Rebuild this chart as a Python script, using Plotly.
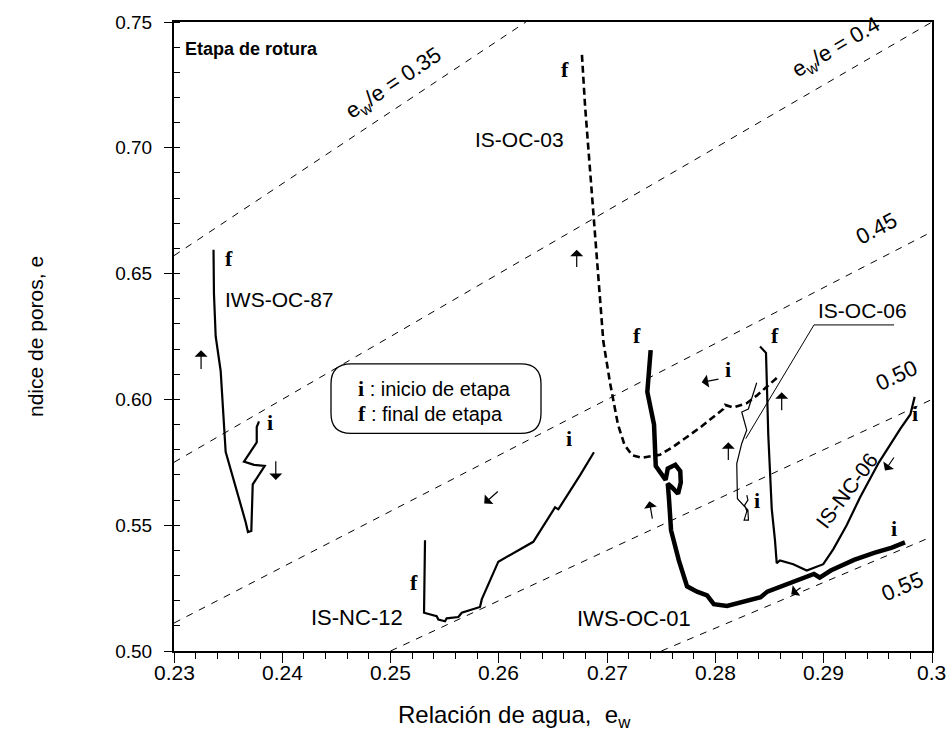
import plotly.graph_objects as go

# ---------------- data ----------------
ratio_values = [0.35, 0.40, 0.45, 0.50, 0.55]
ratio_ew_start = [0.23, 0.23, 0.23, 0.25, 0.275]
ratio_ew_end = [0.2625, 0.30, 0.30, 0.30, 0.30]

iws_oc_87_ew = [0.23785, 0.23764, 0.23764, 0.23646, 0.23739, 0.23838, 0.23727, 0.23714,
                0.23683, 0.23662, 0.23477, 0.23431, 0.23385, 0.23369, 0.23365]
iws_oc_87_e = [0.5913, 0.5890, 0.5829, 0.5753, 0.5740, 0.5736, 0.5662, 0.5477,
               0.5473, 0.5512, 0.5792, 0.6113, 0.6250, 0.6420, 0.6595]

is_nc_12_ew = [0.26878, 0.26749, 0.26549, 0.26519, 0.26318, 0.25995, 0.25842, 0.25826,
               0.25657, 0.25626, 0.25518, 0.25503, 0.25441, 0.25426, 0.25309, 0.25318]
is_nc_12_e = [0.5790, 0.5698, 0.5563, 0.5571, 0.5434, 0.5355, 0.5205, 0.5175,
              0.5152, 0.5135, 0.5130, 0.5118, 0.5125, 0.5138, 0.5152, 0.5440]

is_oc_03_ew = [0.28566, 0.28381, 0.28289, 0.28166, 0.28089, 0.28073, 0.27858, 0.27734,
               0.27611, 0.27488, 0.27320, 0.27230, 0.27160, 0.27100, 0.27057, 0.27027,
               0.26965, 0.26919, 0.26888, 0.26842, 0.26796, 0.26765]
is_oc_03_e = [0.6085, 0.6015, 0.5985, 0.5968, 0.5978, 0.5962, 0.5888, 0.5850,
              0.5812, 0.5780, 0.5768, 0.5778, 0.5820, 0.5900, 0.5996, 0.6065,
              0.6230, 0.6478, 0.6671, 0.6919, 0.7167, 0.7385]

iws_oc_01_ew = [0.29750, 0.29630, 0.29465, 0.29280, 0.29065, 0.28963, 0.28910, 0.28664,
                0.28479, 0.28418, 0.28231, 0.28107, 0.27985, 0.27923, 0.27830, 0.27738,
                0.27662, 0.27590, 0.27572, 0.27560, 0.27600, 0.27655, 0.27680, 0.27675,
                0.27630, 0.27560, 0.27540, 0.27449, 0.27433, 0.27371, 0.27402]
iws_oc_01_e = [0.5432, 0.5411, 0.5390, 0.5362, 0.5320, 0.5292, 0.5306, 0.5264,
               0.5236, 0.5214, 0.5193, 0.5179, 0.5186, 0.5221, 0.5236, 0.5257,
               0.5360, 0.5480, 0.5600, 0.5665, 0.5650, 0.5625, 0.5670, 0.5715,
               0.5740, 0.5725, 0.5680, 0.5735, 0.5900, 0.6030, 0.6196]

is_oc_06_ew = [0.28290, 0.28300, 0.28270, 0.28290, 0.28265, 0.28305, 0.28300, 0.28243,
               0.28203, 0.28197, 0.28243, 0.28289, 0.28243, 0.28304, 0.28350, 0.28381]
is_oc_06_e = [0.5620, 0.5600, 0.5580, 0.5555, 0.5520, 0.5520, 0.5560, 0.5585,
              0.5605, 0.5745, 0.5825, 0.5878, 0.5950, 0.5962, 0.6030, 0.6066]

is_nc_06_ew = [0.29840, 0.29800, 0.29710, 0.29580, 0.29510, 0.29335, 0.29212, 0.29089,
               0.28996, 0.28843, 0.28719, 0.28596, 0.28566, 0.28550, 0.28520, 0.28488,
               0.28467, 0.28412]
is_nc_06_e = [0.6010, 0.5940, 0.5885, 0.5795, 0.5750, 0.5610, 0.5500, 0.5405,
              0.5345, 0.5320, 0.5345, 0.5360, 0.5349, 0.5440, 0.5565, 0.5860,
              0.6185, 0.6210]

x_tick_vals = [0.23, 0.24, 0.25, 0.26, 0.27, 0.28, 0.29, 0.30]
x_tick_text = ["0.23", "0.24", "0.25", "0.26", "0.27", "0.28", "0.29", "0.3"]
y_tick_vals = [0.50, 0.55, 0.60, 0.65, 0.70, 0.75]
y_tick_text = ["0.50", "0.55", "0.60", "0.65", "0.70", "0.75"]

# direction arrows: head (ew, e), tail (ew, e)
arrow_heads = [(0.2325, 0.6195), (0.2394, 0.5680), (0.25865, 0.5586), (0.26719, 0.6595),
               (0.27873, 0.6068), (0.2739, 0.5595), (0.28700, 0.5225), (0.28119, 0.5830),
               (0.28612, 0.6028), (0.29566, 0.5717)]
arrow_tails = [(0.2325, 0.6115), (0.2394, 0.5760), (0.26004, 0.5639), (0.26719, 0.6520),
               (0.28042, 0.6082), (0.2742, 0.5520), (0.28800, 0.5256), (0.28119, 0.5753),
               (0.28612, 0.5951), (0.29658, 0.5775)]

# ---------------- figure ----------------
W, H = 952, 746
L, R, T, B = 174, 20, 18, 95
PW, PH = W - L - R, H - T - B

SANS = "Arial, Liberation Sans, sans-serif"
NARROW = "Liberation Sans Narrow, Arial Narrow, Arial, Liberation Sans, sans-serif"
SERIF = "Times New Roman, Liberation Serif, serif"

fig = go.Figure()

for k, a, b in zip(ratio_values, ratio_ew_start, ratio_ew_end):
    fig.add_trace(go.Scatter(x=[a, b], y=[a / k, b / k], mode="lines",
                             line=dict(color="black", width=1, dash="7px,7px"),
                             hoverinfo="skip", showlegend=False))

def curve(xs, ys, width, dash="solid"):
    fig.add_trace(go.Scatter(x=xs, y=ys, mode="lines",
                             line=dict(color="black", width=width, dash=dash),
                             showlegend=False))

curve(iws_oc_87_ew, iws_oc_87_e, 2.2)
curve(is_nc_12_ew, is_nc_12_e, 2.2)
curve(is_oc_03_ew, is_oc_03_e, 2.6, "7px,4px")
curve(iws_oc_01_ew, iws_oc_01_e, 4.5)
curve(is_oc_06_ew, is_oc_06_e, 1.2)
curve(is_nc_06_ew, is_nc_06_e, 2.2)

ann = []
for (hx, hy), (tx, ty) in zip(arrow_heads, arrow_tails):
    ann.append(dict(x=hx, y=hy, ax=tx, ay=ty, xref="x", yref="y", axref="x", ayref="y",
                    text="", showarrow=True, arrowhead=1, arrowsize=1.8, arrowwidth=1.2,
                    arrowcolor="black", standoff=0, startstandoff=0))

def txt(x, y, s, size=18, family=SANS, angle=0, xanchor="center", bold=False,
        xref="x", yref="y", yanchor="middle"):
    ann.append(dict(x=x, y=y, xref=xref, yref=yref, text=s, showarrow=False,
                    textangle=angle, xanchor=xanchor, yanchor=yanchor,
                    font=dict(family=family, size=size, color="black",
                              weight="bold" if bold else "normal")))

# ratio labels
txt(0.25030, 0.7255, "e<sub>w</sub>/e = 0.35", 22, angle=-33.7)
txt(0.29120, 0.7395, "e<sub>w</sub>/e = 0.4", 22, angle=-30.3)
txt(0.29486, 0.6680, "0.45", 22, angle=-27.5)
txt(0.29670, 0.6095, "0.50", 22, angle=-25)
txt(0.29725, 0.5255, "0.55", 22, angle=-23)

# curve labels
txt(0.2345, 0.6398, "IWS-OC-87", 21, xanchor="left")
txt(0.26191, 0.7032, "IS-OC-03", 21)
txt(0.29354, 0.6355, "IS-OC-06", 21)
txt(0.24690, 0.5132, "IS-NC-12", 22)
txt(0.27250, 0.5131, "IWS-OC-01", 22)
txt(0.29212, 0.5638, "IS-NC-06", 21, angle=-53)

# i / f markers
for x, y, s in [(0.2351, 0.6560, "f"), (0.2389, 0.5910, "i"),
                (0.25216, 0.5273, "f"), (0.2665, 0.5845, "i"),
                (0.26611, 0.7310, "f"), (0.28119, 0.6118, "i"),
                (0.2728, 0.6255, "f"), (0.2855, 0.6255, "f"),
                (0.28381, 0.5600, "i"), (0.29843, 0.5945, "i"),
                (0.2965, 0.5485, "i")]:
    txt(x, y, s, 22, family=SERIF, bold=True)

def px2paper(px, py):
    return (px - L) / PW, (T + PH - py) / PH

# panel title
px_, py_ = px2paper(183, 45)
txt(px_, py_, "Etapa de rotura", 18, bold=True, xanchor="left", xref="paper", yref="paper")

# legend box text
lx, ly = px2paper(356, 387)
txt(lx, ly, "<span style='font-family:Liberation Serif;font-weight:bold;font-size:22px'>i</span> : inicio de etapa",
    20, xanchor="left", xref="paper", yref="paper")
lx, ly = px2paper(356, 412)
txt(lx, ly, "<span style='font-family:Liberation Serif;font-weight:bold;font-size:22px'>f</span> : final de etapa",
    20, xanchor="left", xref="paper", yref="paper")

# x tick labels (placed at the axis tick values)
_, tick_label_y = px2paper(0, 673)
for v, s in zip(x_tick_vals, x_tick_text):
    ann.append(dict(x=(v - 0.23) / 0.07, y=tick_label_y, xref="paper", yref="paper",
                    text=s, showarrow=False, xanchor="center", yanchor="middle",
                    font=dict(family=NARROW, size=21, color="black")))

# axis titles
tx, ty = px2paper(514, 735)
ann.append(dict(x=tx, y=ty, xref="paper", yref="paper", showarrow=False,
                text="Relación de agua,  e<sub>w</sub>", font=dict(family=NARROW, size=24, color="black")))
tx, ty = px2paper(22, T + PH / 2)
ann.append(dict(x=tx, y=ty, xref="paper", yref="paper", showarrow=False, textangle=-90,
                text="ndice de poros, e", font=dict(family=NARROW, size=21, color="black")))

# rounded legend box
def rounded(x0p, y0p, x1p, y1p, r):
    X0, Y0 = px2paper(x0p, y1p)
    X1, Y1 = px2paper(x1p, y0p)
    rx, ry = r / PW, r / PH
    return (f"M {X0+rx},{Y1} L {X1-rx},{Y1} Q {X1},{Y1} {X1},{Y1-ry} "
            f"L {X1},{Y0+ry} Q {X1},{Y0} {X1-rx},{Y0} L {X0+rx},{Y0} "
            f"Q {X0},{Y0} {X0},{Y0+ry} L {X0},{Y1-ry} Q {X0},{Y1} {X0+rx},{Y1} Z")

shapes = [dict(type="path", xref="paper", yref="paper", path=rounded(331, 362, 541, 432, 20),
               line=dict(color="black", width=1.3))]

# leader line for IS-OC-06 label
leader_ew = [0.2965, 0.2891, 0.2828]
leader_e = [0.6296, 0.6296, 0.5844]
shapes.append(dict(type="path", xref="x", yref="y",
                   path=f"M {leader_ew[0]},{leader_e[0]} L {leader_ew[1]},{leader_e[1]} L {leader_ew[2]},{leader_e[2]}",
                   line=dict(color="black", width=1)))

fig.update_layout(
    width=W, height=H, margin=dict(l=L, r=R, t=T, b=B),
    paper_bgcolor="white", plot_bgcolor="white",
    annotations=ann, shapes=shapes, showlegend=False,
    xaxis=dict(range=[0.23, 0.30], tickvals=x_tick_vals, showticklabels=False,
               ticks="outside", ticklen=10, tickwidth=1, tickcolor="black",
               minor=dict(dtick=0.002, tick0=0.23, ticks="outside", ticklen=6, tickcolor="black"),
               showgrid=False, zeroline=False, showline=True, linecolor="black", linewidth=1.5,
               mirror=True),
    yaxis=dict(range=[0.50, 0.75], tickvals=y_tick_vals, ticktext=y_tick_text,
               ticks="outside", ticklen=8, tickwidth=1, tickcolor="black",
               minor=dict(dtick=0.01, tick0=0.5, ticks="inside", ticklen=6, tickcolor="black"),
               showgrid=False, zeroline=False, showline=True, linecolor="black", linewidth=2,
               mirror=True, ticklabelstandoff=8,
               tickfont=dict(family=SANS, size=19, color="black")),
)

fig.write_html("out.html", config={"displayModeBar": False},
               post_script="document.body.style.margin='0px';document.body.style.overflow='hidden';")
